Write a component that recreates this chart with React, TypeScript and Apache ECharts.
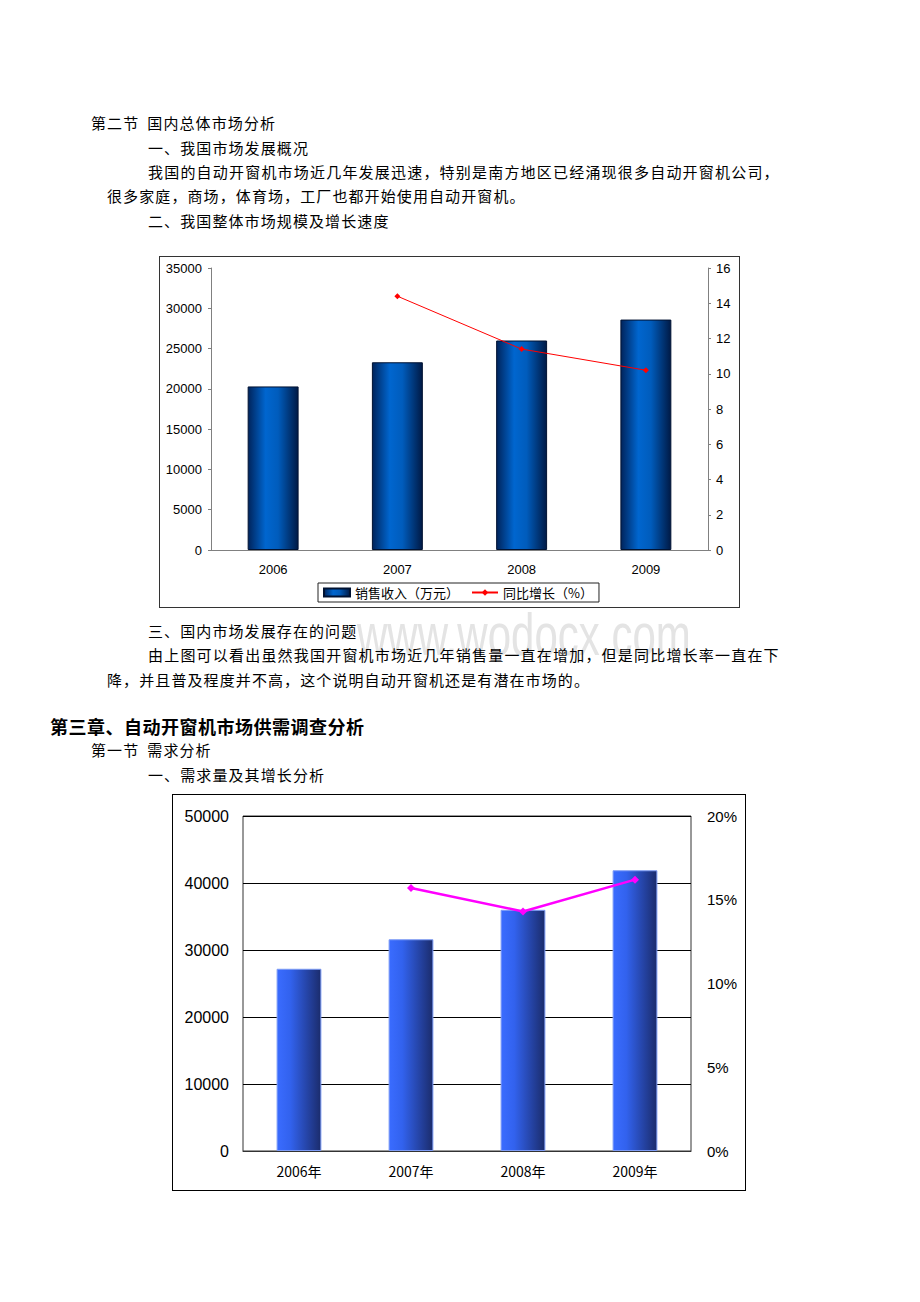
import React, { useEffect, useRef } from "react";
import * as echarts from "echarts";

// ---------- data ----------
const years1 = ["2006", "2007", "2008", "2009"];
const revenue = [20300, 23300, 26000, 28600];
const revenueGrowth = [null, 14.4, 11.4, 10.2];
const revenueAxis = [0, 35000, 5000];
const growthAxis1 = [0, 16, 2];

const years2 = ["2006年", "2007年", "2008年", "2009年"];
const demand = [27200, 31600, 36000, 41900];
const demandGrowth = [null, 15.7, 14.3, 16.2];
const demandAxis = [0, 50000, 10000];
const growthAxis2 = [0, 20, 5];

const legendNames = ["销售收入（万元）", "同比增长（%）"];

const numFont = "'Liberation Sans', Arial, sans-serif";
const cjkFont = "'Noto Sans CJK SC', sans-serif";
const plain = (v: number) => String(v);

function Chart({ option, style }: { option: any; style: React.CSSProperties }) {
  const ref = useRef<HTMLDivElement>(null);
  useEffect(() => {
    if (!ref.current) return;
    const c = echarts.init(ref.current, undefined, { renderer: "svg" });
    c.setOption(option);
    return () => c.dispose();
  }, [option]);
  return <div ref={ref} style={style} />;
}

const option1 = {
  animation: false,
  textStyle: { fontFamily: numFont },
  grid: { left: 51, right: 31, top: 11, bottom: 57 },
  legend: {
    left: 158,
    top: 326,
    itemWidth: 26,
    itemHeight: 8,
    itemGap: 12,
    padding: [3, 6, 3, 5],
    borderColor: "#222",
    borderWidth: 1,
    textStyle: { fontSize: 13, color: "#000", fontFamily: cjkFont },
    data: [{ name: legendNames[0], icon: "rect" }, { name: legendNames[1] }],
  },
  xAxis: {
    type: "category",
    data: years1,
    axisLine: { lineStyle: { color: "#808080" } },
    axisTick: { inside: true, length: 4, lineStyle: { color: "#808080" } },
    axisLabel: { color: "#000", fontSize: 13, margin: 13 },
  },
  yAxis: [
    {
      type: "value",
      min: revenueAxis[0],
      max: revenueAxis[1],
      interval: revenueAxis[2],
      axisLine: { show: true, lineStyle: { color: "#808080" } },
      axisTick: { show: true, length: 3, lineStyle: { color: "#808080" } },
      axisLabel: { color: "#000", fontSize: 13, margin: 9, formatter: plain },
      splitLine: { show: false },
    },
    {
      type: "value",
      position: "right",
      min: growthAxis1[0],
      max: growthAxis1[1],
      interval: growthAxis1[2],
      axisLine: { show: true, lineStyle: { color: "#808080" } },
      axisTick: { show: true, length: 3, lineStyle: { color: "#808080" } },
      axisLabel: { color: "#000", fontSize: 13, margin: 8, formatter: plain },
      splitLine: { show: false },
    },
  ],
  series: [
    {
      name: legendNames[0],
      type: "bar",
      data: revenue,
      barWidth: "41%",
      itemStyle: {
        color: {
          type: "linear",
          x: 0,
          y: 0,
          x2: 1,
          y2: 0,
          colorStops: [
            { offset: 0, color: "#00245c" },
            { offset: 0.35, color: "#0066cf" },
            { offset: 0.6, color: "#005cbc" },
            { offset: 1, color: "#001a46" },
          ],
        },
        borderColor: "#001232",
        borderWidth: 1,
      },
    },
    {
      name: legendNames[1],
      type: "line",
      yAxisIndex: 1,
      data: revenueGrowth,
      symbol: "diamond",
      symbolSize: 6,
      lineStyle: { color: "#ff0000", width: 1 },
      itemStyle: { color: "#ff0000" },
    },
  ],
};

const option2 = {
  animation: false,
  textStyle: { fontFamily: numFont },
  grid: { left: 70, right: 54, top: 21, bottom: 39, show: true, borderColor: "#333", borderWidth: 1 },
  xAxis: {
    type: "category",
    data: years2,
    axisLine: { lineStyle: { color: "#333" } },
    axisTick: { inside: true, length: 4, lineStyle: { color: "#333" } },
    axisLabel: { color: "#000", fontSize: 14, margin: 13, fontFamily: cjkFont },
  },
  yAxis: [
    {
      type: "value",
      min: demandAxis[0],
      max: demandAxis[1],
      interval: demandAxis[2],
      axisLine: { show: false },
      axisTick: { show: false },
      axisLabel: { color: "#000", fontSize: 16, margin: 14, formatter: plain },
      splitLine: { lineStyle: { color: "#000", width: 1 } },
    },
    {
      type: "value",
      position: "right",
      min: growthAxis2[0],
      max: growthAxis2[1],
      interval: growthAxis2[2],
      axisLine: { show: false },
      axisTick: { show: false },
      axisLabel: { color: "#000", fontSize: 15, margin: 16, formatter: "{value}%" },
      splitLine: { show: false },
    },
  ],
  series: [
    {
      name: "需求量",
      type: "bar",
      data: demand,
      barWidth: "40%",
      itemStyle: {
        color: {
          type: "linear",
          x: 0,
          y: 0,
          x2: 1,
          y2: 0,
          colorStops: [
            { offset: 0, color: "#3a6cff" },
            { offset: 0.3, color: "#3262ee" },
            { offset: 1, color: "#1b2c6c" },
          ],
        },
        borderColor: "#7e9cf6",
        borderWidth: 1,
      },
    },
    {
      name: "增长率",
      type: "line",
      yAxisIndex: 1,
      data: demandGrowth,
      symbol: "diamond",
      symbolSize: 8,
      lineStyle: { color: "#ff00ff", width: 2.5 },
      itemStyle: { color: "#ff00ff" },
    },
  ],
};

const base: React.CSSProperties = {
  position: "absolute",
  fontFamily: cjkFont,
  fontSize: 15,
  letterSpacing: "1.1px",
  color: "#000",
  whiteSpace: "nowrap",
  lineHeight: "20px",
};

function Line({ x, y, children, style }: { x: number; y: number; children: React.ReactNode; style?: React.CSSProperties }) {
  return <div style={{ ...base, left: x, top: y - 10, ...style }}>{children}</div>;
}

export default function App() {
  return (
    <div style={{ position: "absolute", left: 0, top: 0, width: 920, height: 1302, background: "#fff", overflow: "hidden" }}>
      <div
        style={{
          position: "absolute",
          left: 357,
          top: 612,
          fontFamily: numFont,
          fontSize: 60,
          lineHeight: "46px",
          color: "#e4e4e4",
          whiteSpace: "nowrap",
          transform: "scaleX(0.7)",
          transformOrigin: "left top",
        }}
      >
        www.wodocx.com
      </div>
      <Line x={91} y={123}>
        第二节<span style={{ marginLeft: 8 }}>国内总体市场分析</span>
      </Line>
      <Line x={148} y={148}>一、我国市场发展概况</Line>
      <Line x={148} y={172} style={{ letterSpacing: "1.2px" }}>
        我国的自动开窗机市场近几年发展迅速，特别是南方地区已经涌现很多自动开窗机公司，
      </Line>
      <Line x={107} y={196}>很多家庭，商场，体育场，工厂也都开始使用自动开窗机。</Line>
      <Line x={148} y={221}>二、我国整体市场规模及增长速度</Line>

      <div style={{ position: "absolute", left: 159, top: 256, width: 579, height: 350, border: "1px solid #333" }} />
      <Chart option={option1} style={{ position: "absolute", left: 160, top: 257, width: 579, height: 350 }} />

      <Line x={148} y={631}>三、国内市场发展存在的问题</Line>
      <Line x={148} y={655} style={{ letterSpacing: "1.2px" }}>
        由上图可以看出虽然我国开窗机市场近几年销售量一直在增加，但是同比增长率一直在下
      </Line>
      <Line x={107} y={680}>降，并且普及程度并不高，这个说明自动开窗机还是有潜在市场的。</Line>
      <Line x={50} y={726} style={{ fontSize: 18, fontWeight: 700, letterSpacing: "0.5px" }}>
        第三章、自动开窗机市场供需调查分析
      </Line>
      <Line x={91} y={750}>
        第一节<span style={{ marginLeft: 8 }}>需求分析</span>
      </Line>
      <Line x={148} y={775}>一、需求量及其增长分析</Line>

      <div style={{ position: "absolute", left: 172, top: 794, width: 572, height: 395, border: "1px solid #000" }} />
      <Chart option={option2} style={{ position: "absolute", left: 173, top: 795, width: 572, height: 395 }} />
    </div>
  );
}
